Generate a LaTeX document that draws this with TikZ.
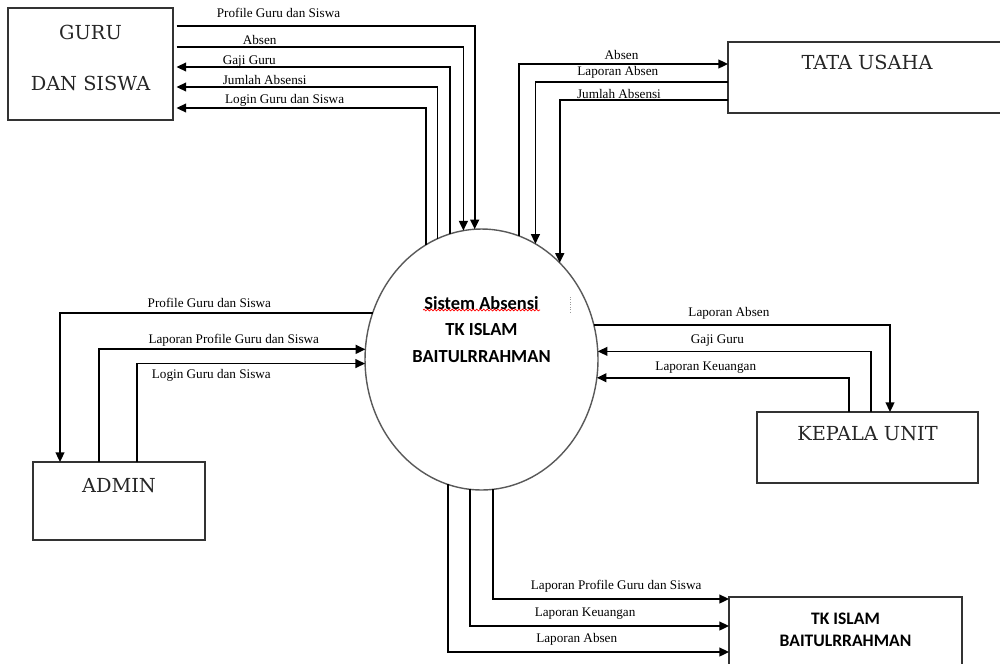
\documentclass[tikz,border=0pt]{standalone}
\usepackage{fontspec}
\usetikzlibrary{positioning, arrows.meta, shapes.geometric, decorations.pathmorphing}
\newfontfamily\lblfont{Liberation Serif}
\newfontfamily\entfont{DejaVu Serif}
\newfontfamily\sysfont{Carlito}

\begin{document}
\begin{tikzpicture}[x=0.02cm, y=-0.02cm,
  entity/.style={draw=black!80, line width=1pt, rectangle, inner sep=0pt, outer sep=0pt},
  entlabel/.style={anchor=north, inner sep=0pt, align=center, text=black!85, font=\entfont\fontsize{11}{29}\selectfont},
  syslabel/.style={anchor=north, inner sep=0pt, align=center, font=\sysfont\bfseries\fontsize{10.5}{15}\selectfont},
  flow/.style={draw, line width=1pt, -{Triangle[length=5.5pt, width=5pt]}},
  lbl/.style={inner sep=0pt, text depth=0pt, font=\lblfont\fontsize{7.5}{8}\selectfont}
]
\clip (0,0) rectangle (1000,663);

% external entities
\node[entity, outer xsep=2pt, minimum width=3.3cm, minimum height=2.24cm,
  label={[entlabel, yshift=-0.34cm]north:{GURU\\DAN SISWA}}] (guru) at (90.5,64) {};
\node[entity, minimum width=5.56cm, minimum height=1.42cm,
  label={[entlabel, yshift=-0.26cm]north:{TATA USAHA}}] (tata) at (867,77.5) {};
\node[entity, minimum width=3.44cm, minimum height=1.56cm,
  label={[entlabel, yshift=-0.32cm]north:{ADMIN}}] (admin) at (119,501) {};
\node[entity, minimum width=4.42cm, minimum height=1.42cm,
  label={[entlabel, yshift=-0.28cm]north:{KEPALA UNIT}}] (kepala) at (867.5,447.5) {};
\node[entity, minimum width=4.66cm, minimum height=1.42cm,
  label={[syslabel, font=\sysfont\bfseries\fontsize{10}{12.5}\selectfont, yshift=-0.32cm]north:{TK ISLAM\\BAITULRRAHMAN}}] (tk) at (845.5,632.5) {};

% process
\node[ellipse, draw=black!65, line width=0.8pt, inner sep=0pt, outer sep=0pt,
  minimum width=4.66cm, minimum height=5.22cm,
  label={[syslabel, yshift=-1.34cm]north:{Sistem Absensi\\TK ISLAM\\BAITULRRAHMAN}}] (sys) at (481.5,359.5) {};
\draw[red, line width=0.4pt, decorate, decoration={snake, amplitude=0.5pt, segment length=2pt}]
  ([shift={(-58.5,-49.5)}]sys.center) -- ++(117,0);
\draw[black!40, line width=0.4pt, densely dotted] ([shift={(88.5,-62.5)}]sys.center) -- ++(0,15);

% guru dan siswa
\draw[flow] (guru.east |- 0,26) -| node[lbl, above=4.5pt, pos=0.171]{Profile Guru dan Siswa} (sys.93.7);
\draw[flow] (guru.east |- 0,47) -| node[lbl, above=1pt, pos=0.145]{Absen} (sys.98.6);
\draw[flow] (sys.104.5) |- node[lbl, above=1.2pt, pos=0.867]{Gaji Guru} (guru.east |- 0,67);
\draw[flow] (sys.110.3) |- node[lbl, above=1pt, pos=0.831]{Jumlah Absensi} (guru.east |- 0,87);
\draw[flow] (sys.116.3) |- node[lbl, above=2.3pt, pos=0.783]{Login Guru dan Siswa} (guru.east |- 0,108);

% tata usaha
\draw[flow] (sys.73.6) |- node[lbl, above=2.3pt, pos=0.745]{Absen} (tata.west |- 0,64);
\draw[flow] (tata.west |- 0,82) -| node[lbl, above=3pt, pos=0.286]{Laporan Absen} (sys.65.2);
\draw[flow] (tata.west |- 0,100) -| node[lbl, above=0.5pt, pos=0.324]{Jumlah Absensi} (sys.51.5);

% admin
\draw[flow] (sys.157.4) -| node[lbl, above=3pt, pos=0.261]{Profile Guru dan Siswa} (admin.north -| 60,0);
\draw[flow] (admin.north -| 99,0) |- node[lbl, above=3pt, pos=0.753]{Laporan Profile Guru dan Siswa} (sys.175.3);
\draw[flow] (admin.north -| 137,0) |- node[lbl, below=2.8pt, pos=0.663]{Login Guru dan Siswa} (sys.182.2);

% kepala unit
\draw[flow] (sys.17.6) -| node[lbl, above=4.5pt, pos=0.228]{Laporan Absen} (kepala.north -| 890,0);
\draw[flow] (kepala.north -| 871,0) |- node[lbl, above=4pt, pos=0.781]{Gaji Guru} (sys.4.7);
\draw[flow] (kepala.north -| 849,0) |- node[lbl, above=3.4pt, pos=0.784]{Laporan Keuangan} (sys.351.4);

% tk islam
\draw[flow] (sys.275.95) |- node[lbl, above=5pt, pos=0.761]{Laporan Profile Guru dan Siswa} (tk.west |- 0,599);
\draw[flow] (sys.265.8) |- node[lbl, above=5pt, pos=0.722]{Laporan Keuangan} (tk.west |- 0,626);
\draw[flow] (sys.255) |- node[lbl, above=5pt, pos=0.729]{Laporan Absen} (tk.west |- 0,652);
\end{tikzpicture}
\end{document}
